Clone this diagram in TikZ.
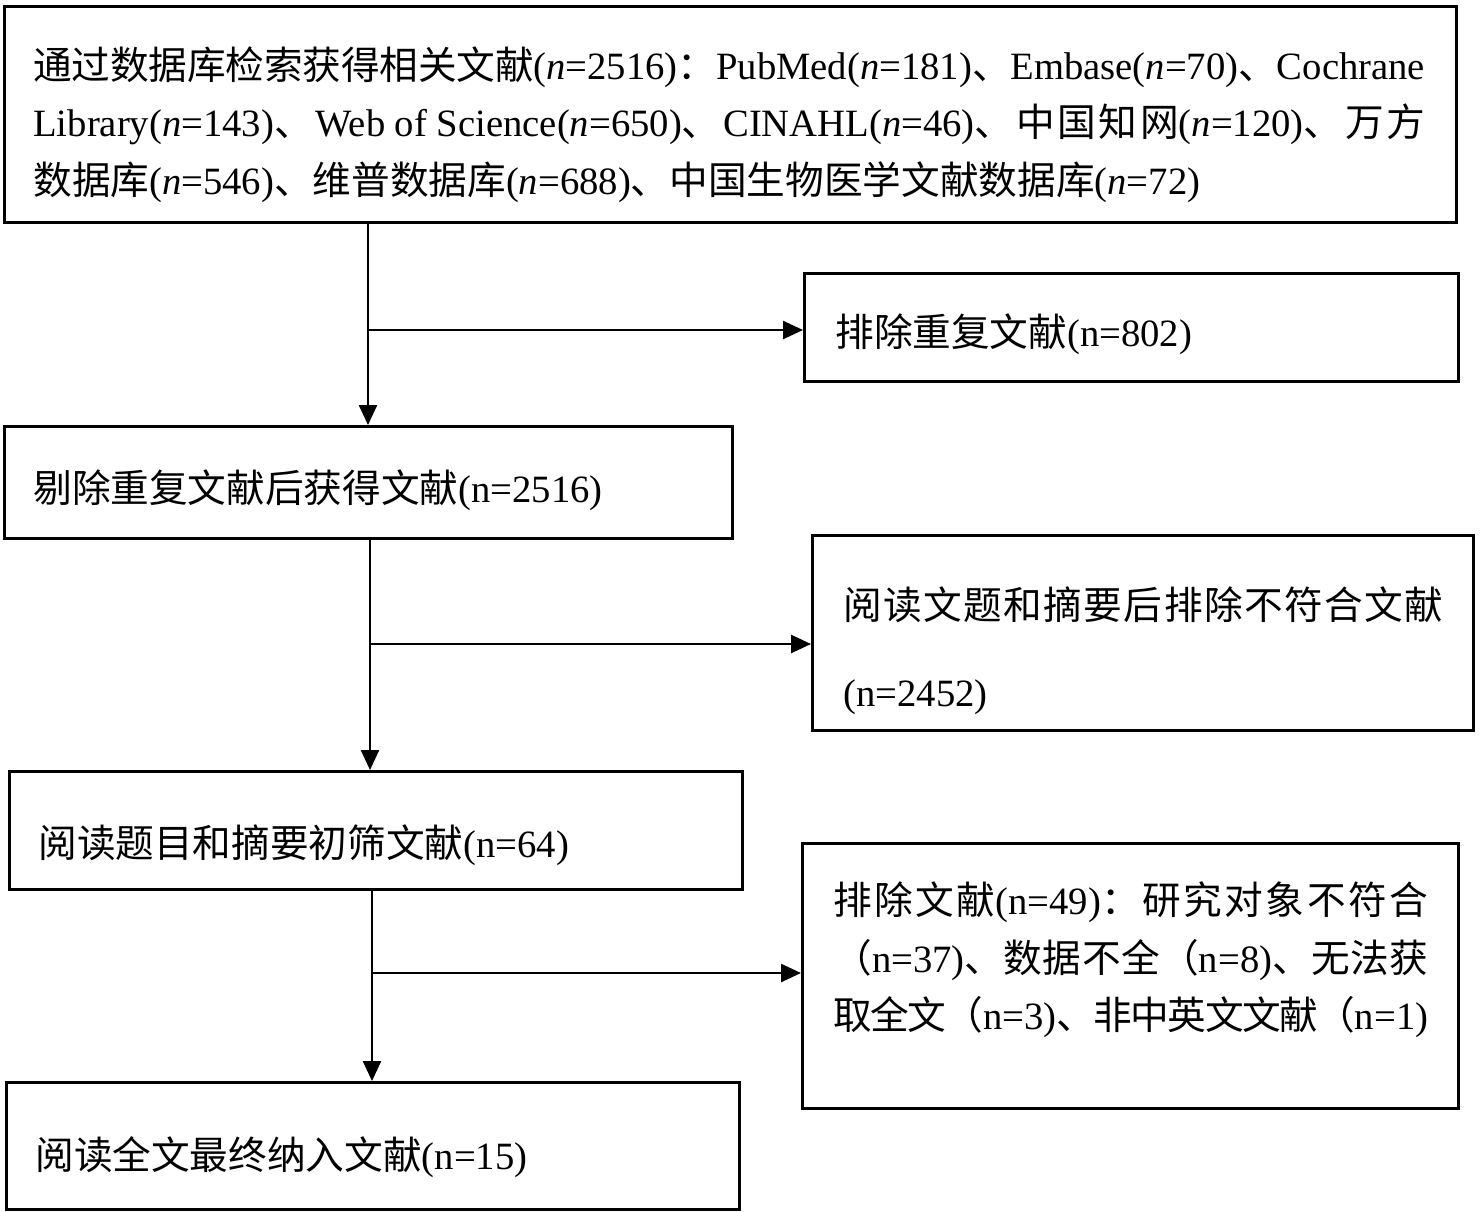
\documentclass[tikz,border=0pt]{standalone}
\usepackage{fontspec}
\setmainfont{Liberation Serif}
\newfontfamily\cjk{Noto Sans CJK SC}
\newcommand\zh[1]{{\cjk #1}}
\newcommand\jg{\hskip 0pt plus 1fil minus 2pt\relax}
\usetikzlibrary{arrows.meta}
\begin{document}
\begin{tikzpicture}[x=0.02cm,y=-0.02cm,
  box/.style={draw,line width=1.6pt,rectangle,anchor=north west,inner sep=0pt},
  txt/.style={anchor=base west,inner sep=0pt,font=\fontsize{22}{26}\selectfont},
  arr/.style={line width=1.4pt,-{Triangle[length=0.4cm,width=0.36cm]}}]
\useasboundingbox[fill=white] (0,0) rectangle (1481,1211);
% boxes
\node[box,minimum width=29.04cm,minimum height=4.32cm] (b1) at (3,5) {};
\node[box,minimum width=13.08cm,minimum height=2.16cm] (b2) at (803,272) {};
\node[box,minimum width=14.56cm,minimum height=2.24cm] (b3) at (3,425) {};
\node[box,minimum width=13.22cm,minimum height=3.9cm] (b4) at (811,534) {};
\node[box,minimum width=14.66cm,minimum height=2.36cm] (b5) at (8,770) {};
\node[box,minimum width=13.12cm,minimum height=5.3cm] (b6) at (801,842) {};
\node[box,minimum width=14.66cm,minimum height=2.54cm] (b7) at (5,1081) {};
% texts
\node[txt] (t1a) at (33,79) {\hbox to 27.84cm{\zh{通\jg 过\jg 数\jg 据\jg 库\jg 检\jg 索\jg 获\jg 得\jg 相\jg 关\jg 文\jg 献}(\textit{n}=2516)\zh{：}\jg PubMed(\textit{n}=181)\zh{、}\jg Embase(\textit{n}=70)\zh{、}\jg Cochrane}};
\node[txt] (t1b) at (33,136) {\hbox to 27.84cm{Library(\textit{n}=143)\zh{、}\jg Web of Science(\textit{n}=650)\zh{、}\jg CINAHL(\textit{n}=46)\zh{、}\jg\zh{中\jg 国\jg 知\jg 网}(\textit{n}=120)\zh{、}\jg\zh{万\jg 方}}};
\node[txt] (t1c) at (33,194) {\zh{数据库}(\textit{n}=546)\zh{、维普数据库}(\textit{n}=688)\zh{、中国生物医学文献数据库}(\textit{n}=72)};
\node[txt] (t2) at (835,346) {\zh{排除重复文献}(n=802)};
\node[txt] (t3) at (33,502) {\zh{剔除重复文献后获得文献}(n=2516)};
\node[txt] (t4a) at (843,619) {\hbox to 12cm{\zh{阅\jg 读\jg 文\jg 题\jg 和\jg 摘\jg 要\jg 后\jg 排\jg 除\jg 不\jg 符\jg 合\jg 文\jg 献}}};
\node[txt] (t4b) at (843,706) {(n=2452)};
\node[txt] (t5) at (38,857) {\zh{阅读题目和摘要初筛文献}(n=64)};
\node[txt] (t6a) at (833,914) {\hbox to 11.9cm{\zh{排\jg 除\jg 文\jg 献}(n=49)\zh{：}\jg\zh{研\jg 究\jg 对\jg 象\jg 不\jg 符\jg 合}}};
\node[txt] (t6b) at (833,972) {\hbox to 11.9cm{\zh{（}n=37)\zh{、}\jg\zh{数\jg 据\jg 不\jg 全}\jg\zh{（}n=8)\zh{、}\jg\zh{无\jg 法\jg 获}}};
\node[txt] (t6c) at (833,1029) {\hbox to 11.9cm{\zh{取\jg 全\jg 文}\jg\zh{（}n=3)\zh{、}\jg\zh{非\jg 中\jg 英\jg 文\jg 文\jg 献}\jg\zh{（}n=1)}};
\node[txt] (t7) at (35,1169) {\zh{阅读全文最终纳入文献}(n=15)};
% connectors
\coordinate (j1) at (368,330);
\coordinate (j2) at (370,644);
\coordinate (j3) at (372,973);
\draw[arr] (b1.south -| j1) -- (b3.north -| j1);
\draw[arr] (j1) -- (j1 -| b2.west);
\draw[arr] (b3.south -| j2) -- (b5.north -| j2);
\draw[arr] (j2) -- (j2 -| b4.west);
\draw[arr] (b5.south -| j3) -- (b7.north -| j3);
\draw[arr] (j3) -- (j3 -| b6.west);
\end{tikzpicture}
\end{document}
